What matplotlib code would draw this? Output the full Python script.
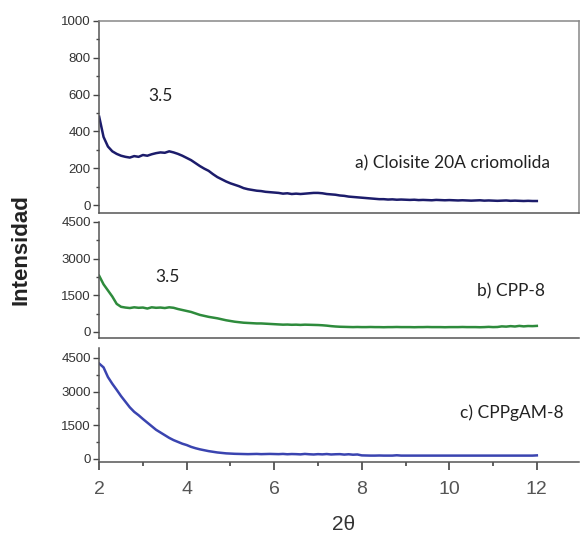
import numpy as np
import matplotlib.pyplot as plt
from matplotlib.ticker import MultipleLocator

# 2-theta grid, 0.1 step from 2 to 12
two_theta = np.round(np.arange(2.0, 12.01, 0.1), 2)

# a) Cloisite 20A criomolida
cloisite = [480, 370, 318, 292, 278, 268, 262, 258, 266, 262,
            272, 268, 276, 282, 286, 284, 292, 286, 278, 268,
            256, 244, 228, 212, 198, 186, 168, 152, 140, 128,
            118, 110, 102, 92, 86, 82, 78, 76, 72, 70,
            68, 66, 62, 64, 60, 62, 60, 62, 64, 66,
            66, 64, 60, 58, 56, 52, 50, 46, 44, 42,
            40, 38, 36, 34, 32, 32, 30, 31, 29, 30,
            29, 28, 29, 27, 28, 27, 26, 28, 27, 26,
            27, 26, 25, 26, 25, 24, 25, 26, 24, 25,
            24, 23, 24, 25, 23, 24, 23, 22, 23, 22, 22]

# b) CPP-8
cpp8 = [2300, 1950, 1700, 1450, 1150, 1030, 1000, 980, 1010, 990,
        1000, 960, 1010, 990, 1000, 980, 1010, 990, 940, 900,
        860, 820, 760, 700, 660, 620, 590, 560, 520, 480,
        450, 420, 400, 380, 370, 360, 350, 350, 340, 330,
        320, 310, 300, 305, 295, 300, 290, 300, 295, 290,
        285, 275, 260, 240, 225, 215, 210, 205, 200, 205,
        200, 200, 205, 200, 200, 195, 200, 200, 205, 200,
        200, 200, 195, 200, 200, 205, 200, 200, 200, 195,
        200, 200, 200, 205, 200, 200, 200, 195, 200, 210,
        200, 205, 230, 220, 240, 225, 250, 230, 245, 240, 250]

# c) CPPgAM-8
cppgam8 = [4250, 4080, 3650, 3350, 3080, 2800, 2550, 2300, 2100, 1950,
           1780, 1620, 1460, 1300, 1180, 1060, 940, 840, 760, 680,
           620, 540, 480, 430, 390, 350, 320, 290, 270, 250,
           240, 230, 225, 220, 215, 220, 225, 215, 220, 225,
           220, 215, 225, 210, 220, 215, 205, 225, 210, 200,
           215, 205, 220, 200, 210, 215, 195, 210, 190, 200,
           160, 155, 150, 150, 155, 150, 150, 150, 165, 150,
           150, 150, 150, 150, 150, 150, 150, 150, 150, 150,
           150, 150, 150, 150, 150, 150, 150, 150, 150, 150,
           150, 150, 150, 150, 150, 150, 150, 150, 150, 150, 160]

fig = plt.figure(figsize=(5.8, 5.37), dpi=100)

note_font = {'family': 'Lato', 'size': 12.5, 'color': '#222222'}

ax_a = fig.add_axes([0.171, 0.6034, 0.827, 0.3575])
ax_b = fig.add_axes([0.171, 0.3706, 0.827, 0.216])
ax_c = fig.add_axes([0.171, 0.1397, 0.827, 0.2123])

ax_a.plot(two_theta, cloisite, color='#1c1c6b', lw=1.8)
ax_b.plot(two_theta, cpp8, color='#2e8b3c', lw=1.8)
ax_c.plot(two_theta, cppgam8, color='#3a44b0', lw=1.8)

ax_a.set_ylim(-43, 1000)
ax_a.yaxis.set_major_locator(MultipleLocator(200))
ax_a.yaxis.set_minor_locator(MultipleLocator(100))
ax_b.set_ylim(-245, 4500)
ax_c.set_ylim(-134, 4945)
for ax in (ax_b, ax_c):
    ax.set_yticks([0, 1500, 3000, 4500])
    ax.yaxis.set_minor_locator(MultipleLocator(750))

for ax in (ax_a, ax_b, ax_c):
    ax.set_xlim(2, 12.96)
    ax.xaxis.set_major_locator(MultipleLocator(2))
    ax.xaxis.set_minor_locator(MultipleLocator(1))
    ax.tick_params(axis='y', which='major', direction='out', length=4,
                   width=1, color='#444444', pad=2)
    ax.tick_params(axis='y', which='minor', direction='out', length=2.5,
                   width=1, color='#444444')
    for lab in ax.get_yticklabels():
        lab.set_fontproperties('Liberation Sans')
        lab.set_fontsize(9.5)
        lab.set_color('#333333')
    for s in ax.spines.values():
        s.set_color('#555555')
        s.set_linewidth(1.1)

# only panel a has a full frame
for ax in (ax_b, ax_c):
    ax.spines['top'].set_visible(False)
    ax.spines['right'].set_visible(False)
for ax in (ax_a, ax_b):
    ax.tick_params(axis='x', which='both', bottom=False, labelbottom=False)
ax_a.spines['top'].set_color('#888888')
ax_a.spines['right'].set_color('#888888')

ax_c.tick_params(axis='x', which='major', direction='out', length=6,
                 width=1.2, color='#444444', labelcolor='#555555', pad=8)
ax_c.tick_params(axis='x', which='minor', direction='out', length=3,
                 width=1.2, color='#444444')
for lab in ax_c.get_xticklabels():
    lab.set_fontproperties('Liberation Sans')
    lab.set_fontsize(14)

# annotations
ax_a.text(3.4, 590, '3.5', fontdict=note_font, ha='center', va='center')
ax_a.text(7.84, 228, 'a) Cloisite 20A criomolida', fontdict=note_font,
          ha='left', va='center')
ax_b.text(3.55, 2250, '3.5', fontdict=note_font, ha='center', va='center')
ax_b.text(10.63, 1650, 'b) CPP-8', fontdict=note_font, ha='left', va='center')
ax_c.text(10.24, 2080, 'c) CPPgAM-8', fontdict=note_font, ha='left', va='center')

fig.text(0.036, 0.5345, 'Intensidad', rotation=90, ha='center', va='center',
         fontsize=16, fontweight='bold', family='Liberation Sans', color='#222222')
fig.text(0.592, 0.024, '2θ', ha='center', va='center', fontsize=15,
         family='Liberation Sans', color='#333333')

fig.savefig('out.png', dpi=100)
